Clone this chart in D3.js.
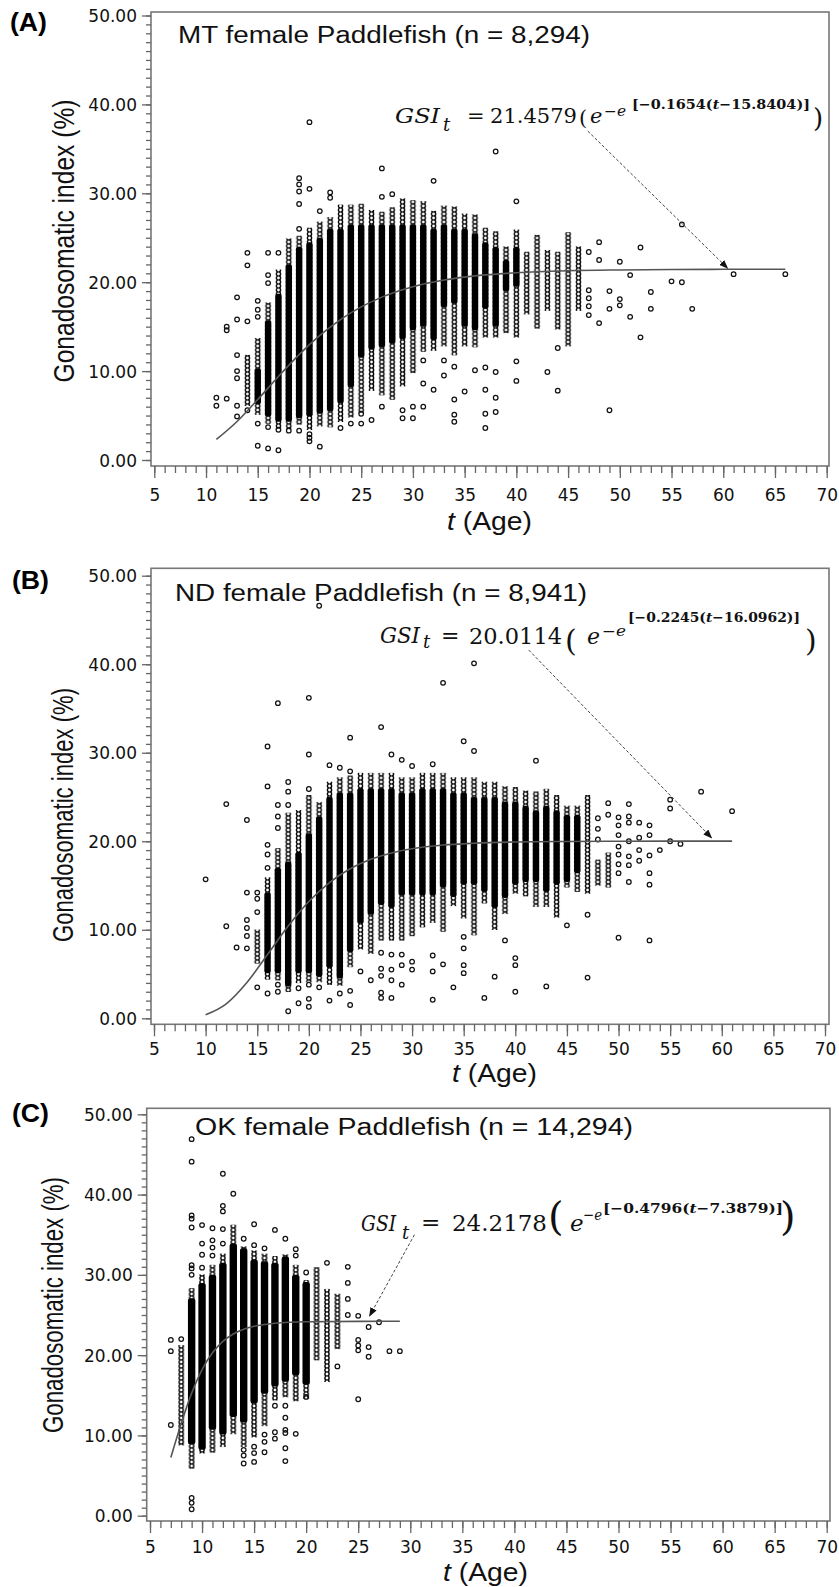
<!DOCTYPE html>
<html>
<head>
<meta charset="utf-8">
<script src="https://cdn.jsdelivr.net/npm/d3@7/dist/d3.min.js"></script>
<style>
  body { margin: 0; background: #fff; }
</style>
</head>
<body>
<div id="output"></div>
<script>
(function () {

"use strict";

// ---------- values ----------
var xTicks = [5, 10, 15, 20, 25, 30, 35, 40, 45, 50, 55, 60, 65, 70]
  , yTicks = [0, 10, 20, 30, 40, 50]

// (A) MT: per-age columns of overlapping markers (solid core + stacked rings)
var agesA     = [14, 15, 16, 17, 18, 19, 20, 21, 22, 23, 24, 25, 26, 27, 28, 29, 30, 31, 32, 33, 34, 35, 36, 37, 38, 39, 40, 41, 42, 43, 44, 45, 46]
var denseLoA  = [null, 6.3, 4.9, 4.3, 4.3, 4.7, 4.9, 5.2, 5.5, 6.4, 8.2, 11.5, 12.4, 12.7, 13.1, 13.6, 14.6, 15.0, 13.5, 17.2, 17.6, 15.0, 14.6, 17.0, 15.0, 19.0, 19.5, null, null, null, null, null, null]
var denseHiA  = [null, 10.3, 15.7, 18.7, 22.0, 24.0, 24.5, 25.0, 26.0, 26.0, 26.5, 26.5, 26.5, 26.5, 26.5, 26.5, 26.5, 26.5, 26.0, 26.5, 26.0, 26.0, 25.5, 24.5, 24.0, 22.5, 24.0, null, null, null, null, null, null]
var spreadLoA = [6.3, 5.3, 4.3, 3.7, 3.7, 4.2, 3.6, 4.0, 3.9, 4.5, 5.0, 5.5, 8.0, 7.5, 7.0, 8.5, 10.0, 12.4, 12.5, 13.0, 12.0, 13.0, 12.9, 14.0, 14.0, 14.5, 14.0, 16.6, 15.0, 17.0, 14.9, 13.0, 17.0]
var spreadHiA = [11.6, 13.5, 17.5, 21.2, 24.7, 25.0, 25.9, 26.6, 27.1, 28.5, 28.5, 28.6, 27.9, 27.7, 28.2, 29.2, 29.0, 28.9, 27.8, 28.4, 28.3, 27.5, 27.4, 25.9, 25.5, 23.8, 25.7, 23.2, 25.1, 23.4, 23.2, 25.4, 23.8]
var outliersA = [
  [11, 7.0], [11, 6.1], [12, 15.0], [12, 14.6], [12, 6.9], [13, 18.3], [13, 15.8], [13, 11.8], [13, 10.0], [13, 9.2], [13, 6.1], [13, 4.9],
  [14, 23.3], [14, 21.9], [14, 15.6], [14, 5.6], [15, 17.9], [15, 16.9], [15, 16.1], [15, 4.1], [15, 1.6],
  [16, 23.3], [16, 20.8], [16, 19.9], [16, 3.7], [16, 1.3], [17, 23.3], [17, 3.4], [17, 1.1], [18, 3.3],
  [19, 31.7], [19, 31.0], [19, 30.2], [19, 28.8], [19, 26.0], [19, 3.3], [20, 38.0], [20, 30.5], [20, 2.9], [20, 2.5], [20, 2.1],
  [21, 28.0], [21, 1.5], [22, 30.1], [22, 29.5], [23, 3.6], [24, 4.1], [25, 5.2], [25, 4.1], [26, 4.5],
  [27, 32.8], [27, 29.6], [27, 6.0], [28, 29.9], [29, 5.6], [29, 4.7], [30, 6.0], [30, 4.7],
  [31, 11.2], [31, 8.6], [31, 6.0], [32, 31.4], [32, 7.9], [33, 11.2], [33, 9.5],
  [34, 10.5], [34, 6.8], [34, 5.1], [34, 4.3], [35, 7.7], [36, 10.1],
  [37, 10.4], [37, 7.9], [37, 5.2], [37, 3.6], [38, 34.7], [38, 9.9], [38, 7.0], [38, 5.4],
  [40, 29.1], [40, 11.1], [40, 8.9], [43, 9.9], [44, 12.6], [44, 7.8],
  [47, 23.4], [47, 19.1], [47, 18.2], [47, 17.3], [47, 16.3], [48, 24.5], [48, 22.5], [48, 15.4], [49, 19.0], [49, 17.0], [49, 5.6],
  [50, 22.3], [50, 18.1], [50, 17.4], [51, 20.8], [51, 16.1], [52, 23.9], [52, 13.8], [53, 18.9], [53, 17.0],
  [55, 20.1], [56, 26.5], [56, 20.0], [57, 17.0], [61, 20.9], [66, 20.9]
]
var fitAgesA = [11, 13, 15, 17, 19, 21, 23, 25, 27, 30, 33, 36, 40, 45, 50, 55, 60, 66]
var fitA     = [2.31, 4.33, 6.80, 9.40, 11.86, 14.01, 15.80, 17.22, 18.32, 19.49, 20.24, 20.71, 21.07, 21.29, 21.38, 21.43, 21.45, 21.46]

// (B) ND
var agesB     = [15, 16, 17, 18, 19, 20, 21, 22, 23, 24, 25, 26, 27, 28, 29, 30, 31, 32, 33, 34, 35, 36, 37, 38, 39, 40, 41, 42, 43, 44, 45, 46, 47, 48, 49]
var denseLoB  = [null, 5.1, 5.1, 3.6, 5.1, 5.1, 4.7, 5.7, 4.5, 7.5, 10.7, 11.7, 12.8, 12.5, 13.9, 13.9, 13.9, 13.9, 14.8, 13.7, 15.1, 15.1, 14.3, 12.5, 13.6, 15.1, 15.4, 15.4, 14.3, 15.1, 15.4, 16.4, null, null, null]
var denseHiB  = [null, 14.2, 17.0, 17.7, 18.8, 20.9, 22.8, 25.0, 25.5, 25.5, 26.0, 26.0, 26.0, 26.0, 25.5, 25.5, 26.0, 26.0, 26.0, 25.5, 25.5, 25.0, 25.0, 25.0, 24.5, 24.5, 24.0, 23.5, 24.0, 23.5, 23.0, 23.0, null, null, null]
var spreadLoB = [6.4, 4.6, 4.5, 3.2, 4.2, 4.3, 4.3, 4.0, 3.9, 6.0, 8.0, 7.5, 9.0, 9.0, 9.0, 9.5, 10.5, 11.0, 10.0, 12.9, 11.5, 9.6, 13.2, 10.2, 12.0, 14.3, 14.0, 12.8, 12.8, 11.6, 15.0, 14.5, 14.3, 15.2, 15.0]
var spreadHiB = [9.8, 15.7, 19.0, 23.0, 23.3, 25.0, 24.2, 26.5, 27.0, 27.2, 27.5, 27.5, 27.5, 27.5, 27.0, 27.0, 27.5, 27.5, 27.5, 27.0, 27.0, 27.0, 26.5, 26.5, 26.0, 25.9, 25.5, 25.4, 25.7, 25.0, 23.8, 23.8, 25.0, 17.7, 18.5]
var outliersB = [
  [10, 15.7], [12, 24.2], [12, 10.4], [13, 8.0], [14, 22.4], [14, 14.2], [14, 11.1], [14, 10.2], [14, 9.3], [14, 7.9],
  [15, 14.2], [15, 13.5], [15, 12.0], [15, 3.5], [16, 30.7], [16, 26.2], [16, 19.6], [16, 18.5], [16, 17.0], [16, 2.8],
  [17, 35.6], [17, 24.1], [17, 22.8], [17, 21.5], [17, 3.8], [17, 3.0], [18, 26.7], [18, 25.6], [18, 24.1], [18, 0.8],
  [19, 3.4], [19, 1.7], [20, 36.2], [20, 29.8], [20, 25.9], [20, 3.8], [20, 2.2], [20, 1.3], [21, 46.6], [21, 3.5],
  [22, 28.6], [22, 2.0], [23, 28.3], [23, 2.8], [24, 31.7], [24, 27.9], [24, 3.1], [24, 1.5], [25, 5.3], [26, 4.3],
  [27, 32.9], [27, 7.4], [27, 5.6], [27, 4.8], [27, 2.9], [27, 2.3], [28, 29.8], [28, 7.2], [28, 5.5], [28, 4.3], [28, 2.3],
  [29, 29.2], [29, 7.2], [29, 6.0], [29, 3.8], [30, 28.5], [30, 6.4], [30, 5.5], [32, 28.7], [32, 7.1], [32, 5.3], [32, 2.1],
  [33, 37.9], [33, 6.1], [34, 3.5], [35, 31.3], [35, 9.2], [35, 7.9], [35, 6.0], [35, 5.1], [36, 40.1], [36, 30.2],
  [37, 2.3], [38, 4.7], [39, 8.8], [40, 6.8], [40, 6.0], [40, 3.0], [42, 29.1], [43, 3.6], [45, 10.5], [47, 11.7], [47, 4.6],
  [48, 22.6], [48, 21.4], [48, 20.2], [49, 24.3], [49, 23.0],
  [50, 22.7], [50, 21.8], [50, 20.7], [50, 19.4], [50, 18.5], [50, 17.4], [50, 16.4], [50, 9.1],
  [51, 24.2], [51, 22.8], [51, 22.1], [51, 20.0], [51, 18.3], [51, 17.3], [51, 15.4], [52, 22.1], [52, 20.4], [52, 19.0], [52, 17.8],
  [53, 21.8], [53, 20.7], [53, 18.4], [53, 16.4], [53, 15.1], [53, 8.8], [54, 19.0], [55, 24.7], [55, 23.7], [55, 20.0],
  [56, 19.7], [58, 25.6], [61, 23.4]
]
var fitAgesB = [10, 12, 14, 16, 18, 20, 22, 24, 26, 28, 30, 33, 36, 40, 45, 50, 55, 61]
var fitB     = [0.39, 1.63, 4.04, 7.20, 10.42, 13.20, 15.34, 16.89, 17.96, 18.68, 19.15, 19.57, 19.78, 19.92, 19.98, 20.00, 20.01, 20.01]

// (C) OK
var agesC     = [8, 9, 10, 11, 12, 13, 14, 15, 16, 17, 18, 19, 20, 21, 22, 23]
var denseLoC  = [null, 8.9, 8.2, 10.7, 10.1, 12.3, 11.6, 14.0, 15.2, 16.1, 16.7, 17.5, 16.3, null, null, null]
var denseHiC  = [null, 27.1, 29.0, 30.0, 31.5, 33.9, 33.3, 31.9, 31.7, 31.5, 32.3, 30.0, 29.1, null, null, null]
var spreadLoC = [9.0, 6.1, 8.0, 8.1, 8.8, 10.4, 8.8, 10.0, 11.4, 14.6, 15.0, 14.5, 14.8, 19.6, 16.9, 21.0]
var spreadHiC = [21.0, 28.1, 29.8, 31.0, 32.4, 36.0, 33.3, 32.8, 32.4, 32.1, 32.3, 31.0, 29.1, 30.7, 28.0, 27.4]
var outliersC = [
  [7, 21.9], [7, 20.5], [7, 11.3], [8, 22.0],
  [9, 46.9], [9, 44.1], [9, 37.4], [9, 37.0], [9, 35.9], [9, 31.2], [9, 30.8], [9, 30.0], [9, 2.2], [9, 1.6], [9, 0.8],
  [10, 36.2], [10, 33.9], [10, 32.5], [10, 30.9], [11, 35.8], [11, 34.3], [11, 33.4], [11, 32.4],
  [12, 42.6], [12, 38.6], [12, 37.9], [12, 35.7], [12, 33.9], [13, 40.1],
  [14, 34.5], [14, 8.2], [14, 7.5], [14, 6.5], [15, 36.3], [15, 33.7], [15, 8.6], [15, 7.8], [15, 6.7],
  [16, 33.3], [16, 10.1], [16, 9.2], [16, 7.9], [17, 35.6], [17, 13.7], [17, 10.4], [17, 9.6],
  [18, 34.5], [18, 13.7], [18, 12.2], [18, 10.7], [18, 10.3], [18, 8.4], [18, 6.8], [19, 33.2], [19, 32.4], [19, 10.2],
  [20, 30.3], [20, 14.8], [22, 31.5], [23, 18.6], [24, 31.0], [24, 29.0], [24, 27.0], [24, 25.0],
  [25, 24.9], [25, 21.9], [25, 21.2], [25, 20.6], [25, 14.5], [26, 23.5], [26, 21.0], [26, 19.8], [27, 24.1], [28, 20.5], [29, 20.5]
]
var fitAgesC = [7, 8, 9, 10, 11, 12, 13, 14, 15, 17, 20, 25, 29]
var fitC     = [7.26, 11.49, 15.27, 18.20, 20.29, 21.71, 22.63, 23.22, 23.60, 23.98, 24.16, 24.21, 24.22]

// arrows: [fromAge, fromGSI, toAge, toGSI]
var arrowA = [46.9, 37.0, 60.4, 21.6]
  , arrowB = [41.3, 41.6, 59.0, 20.4]
  , arrowC = [30.4, 35.0, 26.1, 24.9]

// ---------- layout ----------
var panels = [
  { key: "A", label: "(A)", title: "MT female Paddlefish (n = 8,294)",
    ages: agesA, denseLo: denseLoA, denseHi: denseHiA, spreadLo: spreadLoA, spreadHi: spreadHiA,
    outliers: outliersA, fitAges: fitAgesA, fit: fitA, arrow: arrowA,
    frame: [151, 12, 829, 466], xRange: [154.3, 826.7], yRange: [460, 15.5], colW: 7, xLabelDy: 35,
    labelPos: [10, 31], titlePos: [178, 43, 412], yTitlePos: [74, 241, 283], xTitlePos: [447, 530],
    eq: [[395, 123, 21, "i", "GSI", 45], [443, 131, 18, "i", "t", 0], [467, 123, 21, "n", "=", 0],
         [490, 123, 21, "n", "21.4579", 87], [579, 125, 21, "n", "(", 0], [590, 123, 21, "i", "e", 0],
         [604, 116, 14, "i", "\u2212e", 22], [632, 109, 13, "b", "[\u22120.1654(|t|\u221215.8404)]", 178], [813, 127, 26, "n", ")", 0]] },
  { key: "B", label: "(B)", title: "ND female Paddlefish (n = 8,941)",
    ages: agesB, denseLo: denseLoB, denseHi: denseHiB, spreadLo: spreadLoB, spreadHi: spreadHiB,
    outliers: outliersB, fitAges: fitAgesB, fit: fitB, arrow: arrowB,
    frame: [151, 568.3, 829, 1024.3], xRange: [154, 825], yRange: [1018.3, 575.7], colW: 7, xLabelDy: 31,
    labelPos: [12, 589], titlePos: [175, 601, 412], yTitlePos: [73, 815, 254], xTitlePos: [452, 1082],
    eq: [[380, 643, 22, "i", "GSI", 40], [423, 648, 18, "i", "t", 0], [441, 643, 22, "n", "=", 0],
         [469, 644, 22, "n", "20.0114", 93], [565, 651, 30, "n", "(", 0], [587, 644, 22, "i", "e", 0],
         [602, 636, 14, "i", "\u2212e", 24], [628, 622, 13, "b", "[\u22120.2245(|t|\u221216.0962)]", 172], [805, 651, 30, "n", ")", 0]] },
  { key: "C", label: "(C)", title: "OK female Paddlefish (n = 14,294)",
    ages: agesC, denseLo: denseLoC, denseHi: denseHiC, spreadLo: spreadLoC, spreadHi: spreadHiC,
    outliers: outliersC, fitAges: fitAgesC, fit: fitC, arrow: arrowC,
    frame: [146.7, 1108.3, 830, 1521], xRange: [150, 826.7], yRange: [1515.7, 1114.3], colW: 8, xLabelDy: 32,
    labelPos: [12, 1122], titlePos: [195, 1135, 438], yTitlePos: [63, 1305, 256], xTitlePos: [443, 1581],
    eq: [[361, 1231, 23, "i", "GSI", 35], [402, 1239, 18, "i", "t", 0], [421, 1230, 23, "n", "=", 0],
         [452, 1231, 23, "n", "24.2178", 95], [548, 1230, 40, "n", "(", 0], [570, 1231, 23, "i", "e", 0],
         [583, 1220, 15, "i", "\u2212e", 19], [603, 1213, 13, "b", "[\u22120.4796(|t|\u22127.3879)]", 180], [780, 1230, 40, "n", ")", 0]] }
]

var sans = "'Liberation Sans', Arial, sans-serif"
  , serif = "'DejaVu Serif', serif"

var svg = d3.select("#output").append("svg").attr("width", 839).attr("height", 1587)
  , defs = svg.append("defs")

defs.append("marker")
  .attr("id", "arrowhead")
  .attr("markerUnits", "userSpaceOnUse")
  .attr("markerWidth", 9).attr("markerHeight", 7)
  .attr("refX", 8).attr("refY", 3.5)
  .attr("orient", "auto")
  .append("path").attr("d", "M0,0 L9,3.5 L0,7 Z").attr("fill", "#111")

panels.forEach(drawPanel)

function drawPanel(p) {
  var x = d3.scaleLinear().domain([5, 70]).range(p.xRange)
    , y = d3.scaleLinear().domain([0, 50]).range(p.yRange)
    , g = svg.append("g")
    , f = p.frame
    , w = p.colW

  // stacked ring pattern for the semi-dense part of each age column
  defs.append("pattern")
    .attr("id", "stack" + p.key)
    .attr("patternUnits", "userSpaceOnUse")
    .attr("x", -w / 2).attr("y", 0).attr("width", w).attr("height", 4)
    .append("circle")
      .attr("cx", w / 2).attr("cy", 2).attr("r", 2.1)
      .attr("fill", "none").attr("stroke", "#000").attr("stroke-width", 1.4)

  var colData = p.ages.map(function (t, i) {
    return { t: t, dLo: p.denseLo[i], dHi: p.denseHi[i], sLo: p.spreadLo[i], sHi: p.spreadHi[i] }
  })

  var cols = g.selectAll(".col").data(colData).enter()
    .append("g")
    .attr("class", "col")
    .attr("transform", function (d) { return "translate(" + x(d.t) + ",0)" })

  cols.append("rect")
    .attr("x", -w / 2).attr("width", w)
    .attr("y", function (d) { return y(d.sHi) - 2 })
    .attr("height", function (d) { return y(d.sLo) - y(d.sHi) + 4 })
    .attr("fill", "url(#stack" + p.key + ")")

  cols.filter(function (d) { return d.dLo != null })
    .append("rect")
    .attr("x", -w / 2 + 0.3).attr("width", w - 0.6).attr("rx", 2.5)
    .attr("y", function (d) { return y(d.dHi) })
    .attr("height", function (d) { return y(d.dLo) - y(d.dHi) })
    .attr("fill", "#000")

  // single fish
  g.selectAll(".pt").data(p.outliers).enter()
    .append("circle")
    .attr("class", "pt")
    .attr("cx", function (d) { return x(d[0]) })
    .attr("cy", function (d) { return y(d[1]) })
    .attr("r", 2.3)
    .attr("fill", "none").attr("stroke", "#111").attr("stroke-width", 1.25)

  // fitted Gompertz curve
  var line = d3.line()
    .x(function (d, i) { return x(p.fitAges[i]) })
    .y(function (d) { return y(d) })
    .curve(d3.curveMonotoneX)

  g.append("path").datum(p.fit)
    .attr("d", line)
    .attr("fill", "none").attr("stroke", "#555").attr("stroke-width", 1.6)

  // dashed pointer from equation to curve
  g.append("line")
    .attr("x1", x(p.arrow[0])).attr("y1", y(p.arrow[1]))
    .attr("x2", x(p.arrow[2])).attr("y2", y(p.arrow[3]))
    .attr("stroke", "#444").attr("stroke-width", 1).attr("stroke-dasharray", "3,2")
    .attr("marker-end", "url(#arrowhead)")

  // frame
  g.append("rect")
    .attr("x", f[0]).attr("y", f[1])
    .attr("width", f[2] - f[0]).attr("height", f[3] - f[1])
    .attr("fill", "none").attr("stroke", "#777").attr("stroke-width", 1.6)

  // axes
  function styleAxis(a) {
    a.select(".domain").remove()
    a.selectAll("line").attr("stroke", "#666").attr("stroke-width", 1.3)
    a.selectAll("text")
      .style("font-family", "'DejaVu Sans', Verdana, sans-serif")
      .style("font-size", "17px")
      .attr("fill", "#111")
  }

  var xMinor = g.append("g").attr("transform", "translate(0," + f[3] + ")")
    .call(d3.axisBottom(x).tickValues(d3.range(5, 71)).tickSize(7).tickFormat(""))
  styleAxis(xMinor)

  var xMajor = g.append("g").attr("transform", "translate(0," + f[3] + ")")
    .call(d3.axisBottom(x).tickValues(xTicks).tickSize(12).tickFormat(d3.format("d")))
  styleAxis(xMajor)
  xMajor.selectAll("text").attr("y", p.xLabelDy).attr("dy", null)

  var yMinor = g.append("g").attr("transform", "translate(" + f[0] + ",0)")
    .call(d3.axisLeft(y).tickValues(d3.range(0, 51)).tickSize(5).tickFormat(""))
  styleAxis(yMinor)

  var yMajor = g.append("g").attr("transform", "translate(" + f[0] + ",0)")
    .call(d3.axisLeft(y).tickValues(yTicks).tickSize(9).tickFormat(d3.format(".2f")))
  styleAxis(yMajor)
  yMajor.selectAll("text").attr("x", -14).attr("dy", "0.36em")

  // texts
  g.append("text")
    .attr("x", p.labelPos[0]).attr("y", p.labelPos[1])
    .attr("textLength", 37).attr("lengthAdjust", "spacingAndGlyphs")
    .style("font-family", sans).style("font-size", "25px").style("font-weight", "bold")
    .attr("fill", "#000")
    .text(p.label)

  g.append("text")
    .attr("x", p.titlePos[0]).attr("y", p.titlePos[1])
    .attr("textLength", p.titlePos[2]).attr("lengthAdjust", "spacingAndGlyphs")
    .style("font-family", sans).style("font-size", "23px")
    .attr("fill", "#111")
    .text(p.title)

  g.append("text")
    .attr("transform", "translate(" + p.yTitlePos[0] + "," + p.yTitlePos[1] + ") rotate(-90)")
    .attr("text-anchor", "middle")
    .attr("textLength", p.yTitlePos[2]).attr("lengthAdjust", "spacingAndGlyphs")
    .style("font-family", sans).style("font-size", "30px")
    .attr("fill", "#111")
    .text("Gonadosomatic index (%)")

  var xt = g.append("text")
    .attr("x", p.xTitlePos[0]).attr("y", p.xTitlePos[1])
    .attr("textLength", 85).attr("lengthAdjust", "spacingAndGlyphs")
    .style("font-family", sans).style("font-size", "25px")
    .attr("fill", "#111")
  xt.append("tspan").style("font-style", "italic").text("t")
  xt.append("tspan").text(" (Age)")

  // equation, piece by piece
  p.eq.forEach(function (e) {
    var t = g.append("text")
      .attr("x", e[0]).attr("y", e[1])
      .style("font-family", serif).style("font-size", e[2] + "px")
      .style("font-style", e[3] === "i" ? "italic" : "normal")
      .style("font-weight", e[3] === "b" ? "bold" : "normal")
      .attr("fill", "#111")
    if (e[5]) t.attr("textLength", e[5]).attr("lengthAdjust", "spacingAndGlyphs")
    e[4].split("|").forEach(function (s, i) {
      t.append("tspan").style("font-style", i % 2 ? "italic" : null).text(s)
    })
  })
}

}())
</script>
</body>
</html>
